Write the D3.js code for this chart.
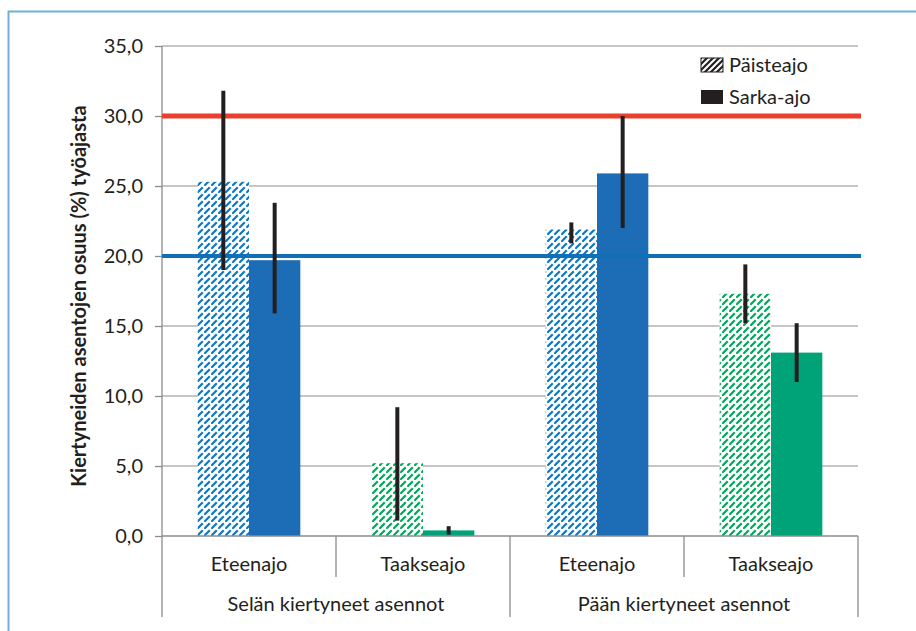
<!DOCTYPE html>
<html>
<head>
<meta charset="utf-8">
<script src="https://cdn.jsdelivr.net/npm/d3@7"></script>
<style>
  body { margin: 0; background: #fff; }
  text { font-family: Lato, "Open Sans", sans-serif; fill: #231f20; }
</style>
</head>
<body>
<script>
/* DATA */
var groups = ["Selän kiertyneet asennot", "Pään kiertyneet asennot"];
var categories = ["Eteenajo", "Taakseajo", "Eteenajo", "Taakseajo"];
var series = ["Päisteajo", "Sarka-ajo"];
var paisteajo = [25.3, 5.2, 21.9, 17.3];
var sarkaajo = [19.7, 0.4, 25.9, 13.1];
var paisteLow = [19.0, 1.1, 20.9, 15.2];
var paisteHigh = [31.8, 9.2, 22.4, 19.4];
var sarkaLow = [15.9, 0.1, 22.0, 11.0];
var sarkaHigh = [23.8, 0.7, 30.0, 15.2];
var yTicks = [0, 5, 10, 15, 20, 25, 30, 35];
var refLines = [30, 20];

/* CONSTANTS */
var W = 916, H = 631;
var margin = {top: 46, left: 162, right: 58, bottom: 95};
var width = W - margin.left - margin.right,
    height = H - margin.top - margin.bottom;
var blue = "#1c6db6", green = "#00a377";
var catColor = ["blue", "green", "blue", "green"];

var svg = d3.select("body").append("svg")
  .attr("width", W).attr("height", H);

// frame
svg.append("path")
  .attr("d", "M8.5," + (H + 5) + " V11.5 H" + (W + 5))
  .attr("fill", "none").attr("stroke", "#6db1da").attr("stroke-width", 2);

// hatch patterns (dashed upward diagonals)
var defs = svg.append("defs");
[["hatch-blue", "#0d78c2"], ["hatch-green", "#00a85a"]].forEach(function(p) {
  var pat = defs.append("pattern")
    .attr("id", p[0]).attr("patternUnits", "userSpaceOnUse")
    .attr("width", 7).attr("height", 7);
  pat.append("rect").attr("width", 7).attr("height", 7).attr("fill", "#fff");
  pat.append("path")
    .attr("d", "M1,6 L5,2")
    .attr("stroke", p[1]).attr("stroke-width", 2.2).attr("stroke-linecap", "square");
});

var g = svg.append("g")
  .attr("transform", "translate(" + margin.left + "," + margin.top + ")");

/* SCALES */
var x = d3.scaleBand().domain(d3.range(4)).range([0, width]).paddingInner(0).paddingOuter(0);
var xs = d3.scaleBand().domain(series).range([x.bandwidth() * 0.205, x.bandwidth() * 0.795]);
var y = d3.scaleLinear().domain([0, 35]).range([height, 0]);

// gridlines
g.selectAll(".grid").data(yTicks.slice(1))
  .enter().append("line")
  .attr("x1", 0).attr("x2", width)
  .attr("y1", function(d) { return y(d); }).attr("y2", function(d) { return y(d); })
  .attr("stroke", "#b3b3b3").attr("stroke-width", 1.5);

// y axis
var yAxis = g.append("g")
  .call(d3.axisLeft(y).tickValues(yTicks).tickSize(7).tickPadding(12)
    .tickFormat(function(d) { return d3.format(".1f")(d).replace(".", ","); }));
yAxis.select(".domain").remove();
yAxis.selectAll(".tick line").attr("stroke", "#8c8c8c").attr("stroke-width", 1.3);
yAxis.selectAll(".tick text").style("font-size", "20px").attr("fill", "#231f20");
g.append("line").attr("x1", 0).attr("x2", 0).attr("y1", 0).attr("y2", height + 81)
  .attr("stroke", "#8c8c8c").attr("stroke-width", 1.3);

// bars
var rows = d3.range(4).map(function(i) {
  return [
    {cat: i, s: series[0], v: paisteajo[i], lo: paisteLow[i], hi: paisteHigh[i]},
    {cat: i, s: series[1], v: sarkaajo[i], lo: sarkaLow[i], hi: sarkaHigh[i]}
  ];
});
var flat = [].concat.apply([], rows);

g.selectAll(".bar").data(flat).enter().append("rect")
  .attr("x", function(d) { return x(d.cat) + xs(d.s); })
  .attr("width", xs.bandwidth())
  .attr("y", function(d) { return y(d.v); })
  .attr("height", function(d) { return y(0) - y(d.v); })
  .attr("fill", function(d) {
    var c = catColor[d.cat];
    if (d.s === series[0]) return "url(#hatch-" + c + ")";
    return c === "blue" ? blue : green;
  });

// reference lines
g.selectAll(".ref").data(refLines).enter().append("line")
  .attr("x1", 0).attr("x2", width + 3)
  .attr("y1", function(d) { return y(d); }).attr("y2", function(d) { return y(d); })
  .attr("stroke", function(d) { return d === 30 ? "#e8402a" : "#0f70b7"; })
  .attr("stroke-width", function(d) { return d === 30 ? 5 : 4; });

// error bars
g.selectAll(".err").data(flat).enter().append("line")
  .attr("x1", function(d) { return x(d.cat) + xs(d.s) + xs.bandwidth() / 2; })
  .attr("x2", function(d) { return x(d.cat) + xs(d.s) + xs.bandwidth() / 2; })
  .attr("y1", function(d) { return y(d.lo); })
  .attr("y2", function(d) { return y(d.hi); })
  .attr("stroke", "#231f20").attr("stroke-width", 4);

// x axis baseline and separators
g.append("line").attr("x1", 0).attr("x2", width).attr("y1", height).attr("y2", height)
  .attr("stroke", "#8c8c8c").attr("stroke-width", 1.3);
g.selectAll(".sep").data(d3.range(1, 5)).enter().append("line")
  .attr("x1", function(d) { return d < 4 ? x(d) : width; })
  .attr("x2", function(d) { return d < 4 ? x(d) : width; })
  .attr("y1", height)
  .attr("y2", function(d) { return d % 2 === 0 ? height + 81 : height + 41; })
  .attr("stroke", "#8c8c8c").attr("stroke-width", 1.3);

// category labels
g.selectAll(".cat").data(categories).enter().append("text")
  .attr("x", function(d, i) { return x(i) + x.bandwidth() / 2; })
  .attr("y", height + 35)
  .attr("text-anchor", "middle")
  .style("font-size", "20px")
  .text(function(d) { return d; });

g.selectAll(".grp").data(groups).enter().append("text")
  .attr("x", function(d, i) { return x(i * 2) + x.bandwidth(); })
  .attr("y", height + 75)
  .attr("text-anchor", "middle")
  .style("font-size", "20px")
  .text(function(d) { return d; });

// y axis title
svg.append("text")
  .attr("transform", "translate(86," + (margin.top + height / 2 + 5) + ") rotate(-90)")
  .attr("text-anchor", "middle")
  .style("font-size", "20px").style("font-weight", "bold")
  .text("Kiertyneiden asentojen osuus (%) työajasta");

// legend
var legend = svg.append("g").attr("transform", "translate(701,58)");
var lp = defs.append("pattern").attr("id", "hatch-legend").attr("patternUnits", "userSpaceOnUse")
  .attr("width", 6).attr("height", 6);
lp.append("path").attr("d", "M0,6 L6,0 M-1,1 L1,-1 M5,7 L7,5")
  .attr("stroke", "#231f20").attr("stroke-width", 2.2);
series.forEach(function(s, i) {
  var row = legend.append("g").attr("transform", "translate(0," + (i * 32) + ")");
  row.append("rect").attr("width", 22).attr("height", 14)
    .attr("fill", i === 0 ? "url(#hatch-legend)" : "#231f20")
    .attr("stroke", i === 0 ? "#231f20" : "none").attr("stroke-width", 1);
  row.append("text").attr("x", 28).attr("y", 14)
    .style("font-size", "20px").text(s);
});
</script>
</body>
</html>
